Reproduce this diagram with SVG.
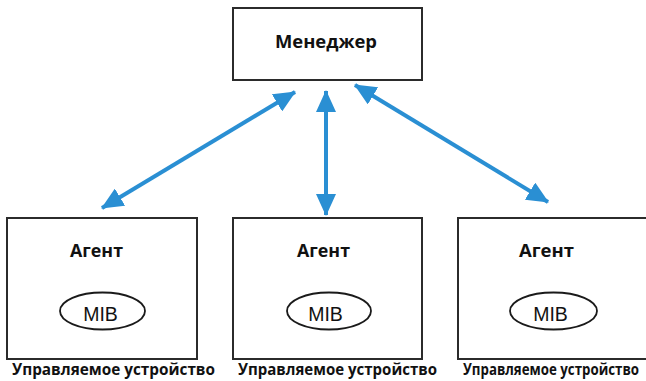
<svg xmlns="http://www.w3.org/2000/svg" width="646" height="381" viewBox="0 0 646 381">
<style>
.box{fill:#fff;stroke:#2b2b2b;stroke-width:2}
.ell{fill:#fff;stroke:#1a1a1a;stroke-width:1.8}
.t{font-family:"Open Sans","Liberation Sans",sans-serif;font-weight:700;font-size:17.5px;fill:#111;text-anchor:middle}
.mib{font-family:"Liberation Sans",Arial,sans-serif;font-weight:400;font-size:19.5px;fill:#111;text-anchor:middle}
.lbl{font-family:"Open Sans","Liberation Sans",sans-serif;font-weight:700;font-size:16px;fill:#111;text-anchor:middle}
.c{stroke:#2a8fd3;stroke-width:4;fill:none;marker-start:url(#ah);marker-end:url(#ah)}
</style>
<defs>
<marker id="ah" markerUnits="userSpaceOnUse" markerWidth="22" markerHeight="20" refX="21" refY="10" orient="auto-start-reverse" viewBox="0 0 22 20">
<path d="M0,0 L22,10 L0,20 z" fill="#2a8fd3"/>
</marker>
</defs>
<rect width="646" height="381" fill="#fff"/>
<g id="manager">
<rect class="box" x="233" y="8" width="189" height="72"/>
<text class="t" x="326" y="48" textLength="102" lengthAdjust="spacingAndGlyphs">Менеджер</text>
</g>
<g id="agent1">
<rect class="box" x="7" y="218" width="190" height="141"/>
<text class="t" x="96.5" y="257" textLength="53" lengthAdjust="spacingAndGlyphs">Агент</text>
<ellipse class="ell" cx="102.5" cy="311" rx="42.5" ry="18.5"/>
<text class="mib" x="100.5" y="321">MIB</text>
<text class="lbl" x="113.5" y="375" textLength="203" lengthAdjust="spacingAndGlyphs">Управляемое устройство</text>
</g>
<g id="agent2">
<rect class="box" x="233" y="218" width="189" height="141"/>
<text class="t" x="323.5" y="257" textLength="53" lengthAdjust="spacingAndGlyphs">Агент</text>
<ellipse class="ell" cx="329" cy="311" rx="42" ry="18.5"/>
<text class="mib" x="325.5" y="321">MIB</text>
<text class="lbl" x="337.5" y="375" textLength="199" lengthAdjust="spacingAndGlyphs">Управляемое устройство</text>
</g>
<g id="agent3">
<rect class="box" x="458" y="218" width="190" height="141"/>
<text class="t" x="546.5" y="257" textLength="55" lengthAdjust="spacingAndGlyphs">Агент</text>
<ellipse class="ell" cx="553.5" cy="311" rx="43.5" ry="18.5"/>
<text class="mib" x="550.5" y="321">MIB</text>
<text class="lbl" x="551" y="375" textLength="176" lengthAdjust="spacingAndGlyphs">Управляемое устройство</text>
</g>
<g id="connectors">
<line class="c" x1="102" y1="208" x2="295" y2="92"/>
<line class="c" x1="326" y1="215" x2="326" y2="91"/>
<line class="c" x1="548" y1="202" x2="355" y2="85"/>
</g>
</svg>
